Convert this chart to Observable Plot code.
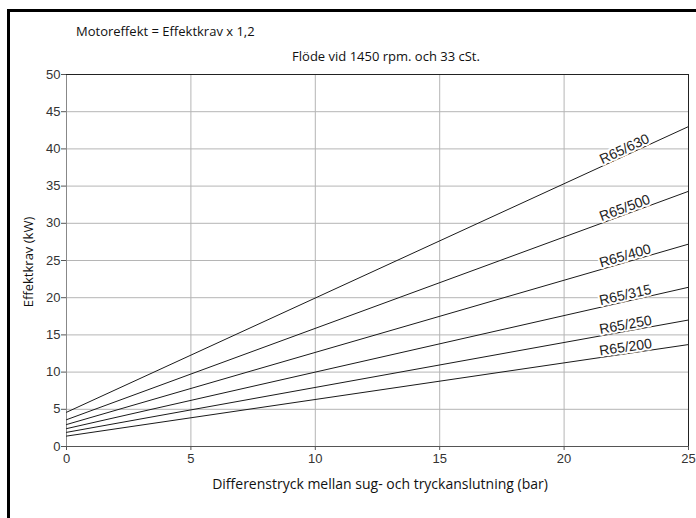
<!DOCTYPE html>
<html><head><meta charset="utf-8">
<script src="https://cdn.jsdelivr.net/npm/d3@7"></script>
<script src="https://cdn.jsdelivr.net/npm/@observablehq/plot@0.6"></script>
<style>
body{margin:0;background:#fff;}
#wrap{position:relative;width:696px;height:518px;overflow:hidden;font-family:"Open Sans",sans-serif;background:#fff;}
#chart{position:absolute;left:0;top:0;}
#frame{position:absolute;left:7px;top:9px;width:720px;height:540px;border-left:3px solid #000;border-top:3px solid #000;}
.t{position:absolute;color:#111;font-size:13px;white-space:nowrap;line-height:1;}
</style></head><body>
<div id="wrap">
<div id="chart"></div>
<div id="frame"></div>
<div class="t" style="left:76px;top:25px">Motoreffekt = Effektkrav x 1,2</div>
<div class="t" style="left:386px;top:50px;transform:translateX(-50%)">Flöde vid 1450 rpm. och 33 cSt.</div>
<div class="t" style="left:380px;top:477px;font-size:14px;transform:translateX(-50%)">Differenstryck mellan sug- och tryckanslutning (bar)</div>
<div class="t" style="left:28px;top:262px;transform:translate(-50%,-50%) rotate(-90deg)">Effektkrav (kW)</div>
</div>
<script>
const series = ["R65/630", "R65/500", "R65/400", "R65/315", "R65/250", "R65/200"];
const xStart = 0;
const xEnd = 25;
const startValues = [4.6, 3.6, 2.95, 2.4, 1.9, 1.4];
const endValues = [43.0, 34.3, 27.2, 21.4, 17.0, 13.7];
const xTicks = [0, 5, 10, 15, 20, 25];
const yTicks = [0, 5, 10, 15, 20, 25, 30, 35, 40, 45, 50];
const labelX = 22.5;

const W = 696, H = 518, mL = 66, mR = 8, mT = 74, mB = 72;
const kx = (W - mL - mR) / (xEnd - xStart);
const ky = (H - mT - mB) / 50;

const lineData = series.flatMap((s, i) => [
  {series: s, x: xStart, y: startValues[i]},
  {series: s, x: xEnd, y: endValues[i]}
]);
const labelData = series.map((s, i) => {
  const slope = (endValues[i] - startValues[i]) / (xEnd - xStart);
  return {
    series: s,
    x: labelX,
    y: startValues[i] + slope * (labelX - xStart),
    angle: -Math.atan(slope * ky / kx) * 180 / Math.PI
  };
});

const chart = Plot.plot({
  width: W, height: H,
  marginLeft: mL, marginRight: mR, marginTop: mT, marginBottom: mB,
  style: {fontFamily: "'Liberation Sans', Arial, sans-serif", fontSize: "13px", color: "#333", background: "transparent"},
  x: {domain: [xStart, xEnd], label: null},
  y: {domain: [0, 50], label: null},
  marks: [
    Plot.gridX(xTicks, {stroke: "#b5b5b5", strokeOpacity: 1}),
    Plot.gridY(yTicks, {stroke: "#b5b5b5", strokeOpacity: 1}),
    Plot.ruleX([xStart], {stroke: "#888"}),
    Plot.ruleY([0], {stroke: "#555"}),
    Plot.axisX(xTicks, {tickSize: 4, tickPadding: 3, stroke: "#555", fill: "#333", fontSize: 13, label: null}),
    Plot.axisY(yTicks, {tickSize: 5, tickPadding: 1, stroke: "#555", fill: "#333", fontSize: 13, label: null}),
    Plot.line(lineData, {x: "x", y: "y", z: "series", stroke: "#1a1a1a", strokeWidth: 1}),
    Plot.text(labelData, {
      x: "x", y: "y", text: "series", rotate: "angle",
      textAnchor: "middle", lineAnchor: "bottom", dy: -2,
      fontSize: 14, fill: "#222", stroke: "white", strokeWidth: 4, paintOrder: "stroke"
    }),
    Plot.ruleY([50], {stroke: "#222"}),
    Plot.ruleX([xEnd], {stroke: "#222"})
  ]
});
document.getElementById("chart").appendChild(chart);
</script>
</body></html>
